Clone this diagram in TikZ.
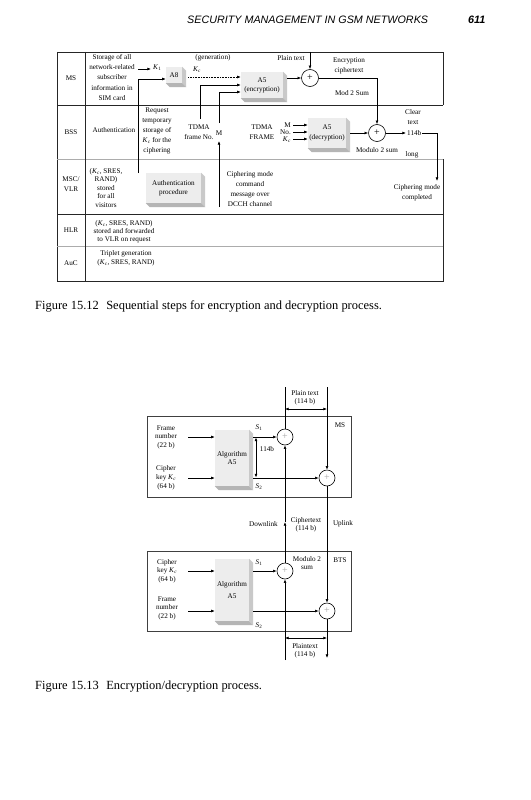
\documentclass[tikz,border=0pt]{standalone}
\usepackage{fontspec}
\setmainfont{Liberation Serif}
\newfontfamily\hdrfont{Liberation Sans}
\usetikzlibrary{arrows.meta,calc}
\newcommand{\Kc}{\textit{K}\textsubscript{\textit{c}}}
\newcommand{\Kone}{\textit{K}\textsubscript{1}}
\newcommand{\Sone}{\textit{S}\textsubscript{1}}
\newcommand{\Stwo}{\textit{S}\textsubscript{2}}
\tikzset{
  lbl/.style={font=\fontsize{7.2}{#1}\selectfont, align=center, inner sep=0pt},
  lbl/.default=8.5,
  ln/.style={line width=0.6pt},
  arr/.style={line width=0.6pt, -{Latex[length=3.6pt,width=2.8pt]}},
  darr/.style={line width=0.6pt, {Latex[length=3.6pt,width=2.8pt]}-{Latex[length=3.6pt,width=2.8pt]}},
  xorc/.style={circle, draw, line width=0.6pt, minimum size=17bp, inner sep=0pt, font=\fontsize{10}{10}\selectfont},
  xorg/.style={xorc, minimum size=16bp, text=gray!70},
  face/.style={fill=gray!14, inner sep=0pt, align=center},
  rightfill/.style={fill=gray!42},
  bottomfill/.style={fill=gray!58},
  rowline/.style={line width=0.8pt, draw=black!85},
  grayline/.style={line width=0.8pt, draw=gray!65},
  boxline/.style={line width=0.7pt, draw=black!75},
}
\newcommand{\bevelbox}[1]{%
  \fill[rightfill] (#1.north east) -- ++(4,4) -- ($(#1.south east)+(4,4)$) -- (#1.south east) -- cycle;
  \fill[bottomfill] (#1.south west) -- ($(#1.south west)+(4,4)$) -- ($(#1.south east)+(4,4)$) -- (#1.south east) -- cycle;}
\begin{document}
\begin{tikzpicture}[x=1bp,y=-1bp]
\useasboundingbox[fill=white] (0,0) rectangle (531,800);

% ---------- header ----------
\node[font=\hdrfont\itshape\fontsize{10.8}{12}\selectfont, anchor=base west, inner sep=0pt] (hdr) at (187,24) {SECURITY MANAGEMENT IN GSM NETWORKS};
\node[font=\hdrfont\itshape\bfseries\fontsize{10.8}{12}\selectfont, anchor=base west, inner sep=0pt] (pg) at (468,24) {611};

% ---------- Figure 15.12 frame ----------
\draw[rowline] (57,52) -- (443,52) -- (443,105);
\draw[rowline] (57,52) -- (57,281) -- (443,281) -- (443,159);
\draw[rowline] (57,105) -- (443,105);
\draw[grayline] (57,159) -- (443,159);
\draw[rowline] (57,214) -- (443,214);
\draw[grayline] (57,246) -- (443,246);
\draw[rowline] (85,52) -- (85,281);

% row labels
\node[lbl] (rms) at (71,78.5) {MS};
\node[lbl] (rbss) at (71,132) {BSS};
\node[lbl=10] (rmsc) at (71,184) {MSC/\\VLR};
\node[lbl] (rhlr) at (71,230) {HLR};
\node[lbl] (rauc) at (71,263.5) {AuC};

% MS row
\node[lbl=10.3] (store) at (112,77.5) {Storage of all\\network-related\\subscriber\\information in\\SIM card};
\node[lbl, anchor=west] (k1lbl) at (153,68) {\Kone};
\coordinate (k1s) at (138,69);
\draw[arr] (k1s) -- (151,69);
\node[face, minimum width=16bp, minimum height=16bp, font=\fontsize{7.2}{8}\selectfont] (a8) at (174,75) {A8};
\bevelbox{a8}
\coordinate (vlrk) at (138,173);
\draw[arr] (vlrk) |- ($(a8.west)+(0,4)$);
\node[lbl] (gen) at (213,58) {(generation)};
\node[lbl] (kclbl) at (197,70) {\Kc};
\node[face, minimum width=42bp, minimum height=26bp, font=\fontsize{7.2}{9}\selectfont] (a5e) at (262,85) {A5\\(encryption)};
\bevelbox{a5e}
\draw[arr, densely dotted] ($(a8.east)+(6,2)$) -- ($(a5e.west)+(0,-8)$);
\node[lbl=10] (tdma1) at (199,132) {TDMA\\frame No.};
\coordinate (tdmatop) at (200,119);
\draw[arr] (tdmatop) |- (a5e.west);
\node[lbl] (mlbl) at (219,133) {M};
\coordinate (mtop) at (219,123);
\draw[arr] (mtop) |- ($(a5e.west)+(0,7)$);
\coordinate (cmdbot) at (219,207);
\coordinate (marr) at (219,141);
\draw[arr] (cmdbot) -- (marr);
\node[lbl] (ptlbl) at (291,58) {Plain text};
\node[xorc] (xe) at (310,78) {+};
\coordinate (pttop) at (310,52);
\draw[arr] (pttop) -- (xe.north);
\draw[arr] ($(a5e.east |- xe.west)+(4,0)$) -- (xe.west);
\node[lbl=10] (enclbl) at (349,66) {Encryption\\ciphertext};
\node[lbl] (mod2) at (352,93) {Mod 2 Sum};

% BSS row
\node[lbl] (auth) at (114,130) {Authentication};
\node[lbl=10] (req) at (157,131) {Request\\temporary\\storage of\\\Kc{} for the\\ciphering};
\node[lbl=10] (tdma2) at (262,132) {TDMA\\FRAME};
\node[face, minimum width=38bp, minimum height=30bp, font=\fontsize{7.2}{9.5}\selectfont] (a5d) at (327,133) {A5\\(decryption)};
\bevelbox{a5d}
\node[lbl, anchor=east] (dm) at (291,125) {M};
\node[lbl, anchor=east] (dno) at (291,132) {No.};
\node[lbl, anchor=east] (dkc) at (291,139.5) {\Kc};
\draw[arr] ($(dm.east)+(2,0)$) -- (a5d.west |- dm.east);
\draw[arr] ($(dno.east)+(2,0)$) -- (a5d.west |- dno.east);
\draw[arr] ($(dkc.east |- 0,139)+(2,0)$) -- (a5d.west |- 0,139);
\node[xorc] (xd) at (377,133) {+};
\draw[arr] ($(a5d.east |- xd.west)+(4,0)$) -- (xd.west);
\draw[arr] (xe.east) -| (xd.north);
\node[lbl=10] (clear) at (413,117) {Clear\\text};
\node[lbl, anchor=west] (l114) at (407,133) {114b};
\draw[arr] (xd.east) -- ($(l114.west)+(-1,0)$);
\coordinate (cmc) at (437,181);
\draw[arr] ($(l114.east)+(1,0)$) -| (cmc);
\node[lbl] (mod2b) at (377,150) {Modulo 2 sum};
\node[lbl] (long) at (412,155) {long};

% MSC/VLR row
\node[lbl=8.5] (vlrtxt) at (106,188) {(\Kc, SRES,\\RAND)\\stored\\for all\\visitors};
\node[face, minimum width=55bp, minimum height=30bp, font=\fontsize{7.2}{9}\selectfont] (authp) at (173.5,188) {Authentication\\procedure};
\bevelbox{authp}
\node[lbl=10.3] (cmd) at (250,189) {Ciphering mode\\command\\message over\\DCCH channel};
\node[lbl=10] (cmdone) at (417,193) {Ciphering mode\\completed};

% HLR / AuC rows
\node[lbl=8.2] (hlrtxt) at (124,232) {(\Kc, SRES, RAND)\\stored and forwarded\\to VLR on request};
\node[lbl=8.5] (auctxt) at (126,258.5) {Triplet generation\\(\Kc, SRES, RAND)};

% caption 1
\node[font=\fontsize{12.5}{14}\selectfont, anchor=base west, inner sep=0pt] (cap1) at (35,309) {Figure 15.12\hspace{0.35em} Sequential steps for encryption and decryption process.};

% ---------- Figure 15.13 ----------
\draw[boxline] (147,416) rectangle (351,497);
\draw[boxline] (147,551) rectangle (351,631);
\node[lbl] (mslbl) at (340,425) {MS};
\node[lbl] (btslbl) at (340,560) {BTS};

% MS part
\node[lbl=8.5] (fn1) at (166,437) {Frame\\number\\(22 b)};
\node[lbl=9] (ck1) at (166,478) {Cipher\\key \Kc\\(64 b)};
\node[face, minimum width=34bp, minimum height=56bp, font=\fontsize{7.2}{8.5}\selectfont] (alg1) at (232,458) {Algorithm\\A5};
\bevelbox{alg1}
\coordinate (fn1s) at (188,437);
\coordinate (ck1s) at (188,478);
\draw[arr] (fn1s) -- (alg1.west |- fn1s);
\draw[arr] (ck1s) -- (alg1.west |- ck1s);
\node[xorg] (x1) at (285,437) {+};
\node[xorg] (x2) at (327,478) {+};
\draw[arr] ($(alg1.east |- x1.west)+(4,0)$) -- (x1.west);
\draw[arr] ($(alg1.east |- x2.west)+(4,0)$) -- (x2.west);
\node[lbl] (s1) at (259,428) {\Sone};
\node[lbl] (s2) at (259,487) {\Stwo};
\coordinate (b114t) at (256,437.5);
\coordinate (b114b) at (256,477.5);
\draw[darr] (b114t) -- (b114b);
\node[lbl] (l114b) at (267,449) {114b};
\node[lbl=7.5] (pt2) at (305,398) {Plain text\\(114 b)};
\coordinate (top1) at (285,387);
\coordinate (top2) at (327,387);
\draw[ln] (x1.north) -- (top1);
\draw[arr] (top2) -- (x2.north);
\coordinate (pta) at (285,409);
\coordinate (ptb) at (327,409);
\draw[darr] (pta) -- (ptb);

% links
\node[xorg] (bx1) at (285,571) {+};
\node[xorg] (bx2) at (327,611) {+};
\coordinate (dmid) at (285,522);
\draw[arr] (bx1.north) -- (dmid);
\draw[arr] (dmid) -- (x1.south);
\draw[arr] (x2.south) -- (bx2.north);
\node[lbl, anchor=east] (down) at (278,524) {Downlink};
\node[lbl=7.5] (ct) at (306,525) {Ciphertext\\(114 b)};
\node[lbl] (up) at (343,524) {Uplink};

% BTS part
\node[lbl=8.5] (ck2) at (167,571) {Cipher\\key \Kc\\(64 b)};
\node[lbl=8.5] (fn2) at (167,608) {Frame\\number\\(22 b)};
\node[face, minimum width=34bp, minimum height=62bp, font=\fontsize{7.2}{12.5}\selectfont] (alg2) at (232,590) {Algorithm\\A5};
\bevelbox{alg2}
\coordinate (ck2s) at (188,571);
\coordinate (fn2s) at (188,611);
\draw[arr] (ck2s) -- (alg2.west |- ck2s);
\draw[arr] (fn2s) -- (alg2.west |- fn2s);
\draw[arr] ($(alg2.east |- bx1.west)+(4,0)$) -- (bx1.west);
\draw[arr] ($(alg2.east |- bx2.west)+(4,0)$) -- (bx2.west);
\node[lbl] (s1b) at (259,563) {\Sone};
\node[lbl] (s2b) at (259,626) {\Stwo};
\node[lbl=8] (mod2c) at (307,563) {Modulo 2\\sum};
\coordinate (bot1) at (285,660);
\coordinate (bot2) at (327,658);
\draw[arr] (bot1) -- (bx1.south);
\draw[arr] (bx2.south) -- (bot2);
\coordinate (pxa) at (285,638);
\coordinate (pxb) at (327,638);
\draw[darr] (pxa) -- (pxb);
\node[lbl=7.5] (ptx) at (305,651) {Plaintext\\(114 b)};

% caption 2
\node[font=\fontsize{12.5}{14}\selectfont, anchor=base west, inner sep=0pt] (cap2) at (35,689) {Figure 15.13\hspace{0.35em} Encryption/decryption process.};
\end{tikzpicture}
\end{document}
